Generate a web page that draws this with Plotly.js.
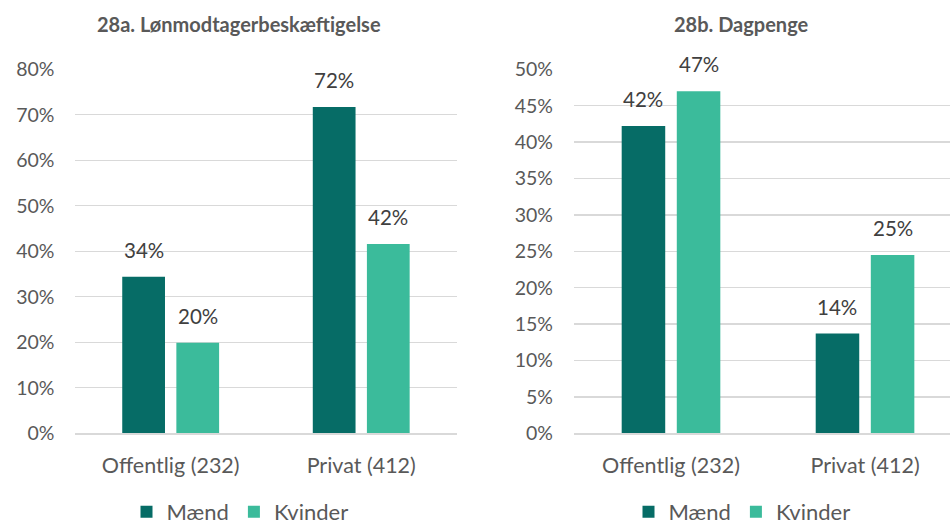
<!DOCTYPE html>
<html>
<head>
<meta charset="utf-8">
<script src="https://cdn.plot.ly/plotly-3.0.1.min.js"></script>
<style>html,body{margin:0;padding:0;background:#fff;}#chart{width:950px;height:526px;}</style>
</head>
<body>
<div id="chart"></div>
<script>
// ---- data ----
const categories = ["Offentlig (232)", "Privat (412)"];
const seriesNames = ["Mænd", "Kvinder"];
const titleA = "28a. Lønmodtagerbeskæftigelse";
const titleB = "28b. Dagpenge";
const loenMaend = [0.344, 0.717];
const loenKvinder = [0.199, 0.416];
const dagMaend = [0.422, 0.137];
const dagKvinder = [0.470, 0.245];
const ticksA = [0, 0.1, 0.2, 0.3, 0.4, 0.5, 0.6, 0.7, 0.8];
const ticksB = [0, 0.05, 0.1, 0.15, 0.2, 0.25, 0.3, 0.35, 0.4, 0.45, 0.5];

// ---- style ----
const colMaend = "#066c66";
const colKvinder = "#3bbb9b";
const FONT = "Lato, 'Open Sans', sans-serif";
const tickCol = "#595959";
const labelCol = "#404040";

function bar(x, y, name, color, xa, ya, legend) {
  return {type: "bar", x: x, y: y, name: name, xaxis: xa, yaxis: ya,
    marker: {color: color}, legend: legend, showlegend: true,
    hoverinfo: "skip"};
}
const traces = [
  bar(categories, loenMaend, seriesNames[0], colMaend, "x", "y", "legend"),
  bar(categories, loenKvinder, seriesNames[1], colKvinder, "x", "y", "legend"),
  bar(categories, dagMaend, seriesNames[0], colMaend, "x2", "y2", "legend2"),
  bar(categories, dagKvinder, seriesNames[1], colKvinder, "x2", "y2", "legend2")
];

const annotations = [];
function labels(vals, xa, ya, shift) {
  vals.forEach((v, i) => {
    annotations.push({x: categories[i], y: v, xref: xa, yref: ya,
      text: Math.round(v * 100) + "%", showarrow: false, xshift: shift,
      yanchor: "bottom", yshift: 13, font: {family: FONT, size: 20.5, color: labelCol}});
  });
}
labels(loenMaend, "x", "y", -27);
labels(loenKvinder, "x", "y", 27);
labels(dagMaend, "x2", "y2", -27.6);
labels(dagKvinder, "x2", "y2", 27.6);
[[titleA, 239], [titleB, 741]].forEach(t => {
  annotations.push({text: "<b>" + t[0] + "</b>", xref: "paper", yref: "paper",
    x: t[1] / 950, y: 1 - 24 / 526, xanchor: "center", yanchor: "middle", showarrow: false,
    font: {family: FONT, size: 20, color: tickCol}});
});

const yDomain = [(526 - 433.3) / 526, (526 - 69.3) / 526];
function yax(ticks, range, anchor) {
  return {domain: yDomain, range: range, anchor: anchor, tickvals: ticks, tickformat: ".0%",
    showgrid: true, gridcolor: "#d9d9d9", gridwidth: 1.3, zeroline: false,
    showline: false, ticks: "", ticklabelstandoff: 20, automargin: false,
    tickfont: {family: FONT, size: 19.5, color: tickCol}, fixedrange: true};
}
function xax(domain, range, anchor) {
  return {domain: domain, range: range, anchor: anchor, type: "category",
    showline: true, linecolor: "#d9d9d9", linewidth: 1.3, ticks: "",
    showgrid: false, ticklabelstandoff: 13, automargin: false,
    tickfont: {family: FONT, size: 21.5, color: tickCol}, fixedrange: true};
}
function leg(cx) {
  return {orientation: "h", x: cx / 950, xanchor: "center", y: -7 / 526, yanchor: "bottom",
    font: {family: FONT, size: 22, color: tickCol}, itemclick: false, itemdoubleclick: false,
    traceorder: "normal", itemwidth: 30, bgcolor: "rgba(0,0,0,0)"};
}

const layout = {
  width: 950, height: 526,
  margin: {l: 0, r: 0, t: 0, b: 0, autoexpand: false},
  paper_bgcolor: "#fff", plot_bgcolor: "rgba(0,0,0,0)",
  font: {family: FONT, color: tickCol},
  barmode: "group", bargap: 0.432, bargroupgap: 0.21,
  xaxis: xax([75.4 / 950, 456.5 / 950], [-0.5, 1.5], "y"),
  yaxis: yax(ticksA, [0, 0.8], "x"),
  xaxis2: xax([574 / 950, 1], [-0.5, 1.438], "y2"),
  yaxis2: yax(ticksB, [0, 0.5], "x2"),
  legend: leg(240),
  legend2: leg(742),
  annotations: annotations
};

Plotly.newPlot("chart", traces, layout, {displayModeBar: false, staticPlot: true});
</script>
</body>
</html>
